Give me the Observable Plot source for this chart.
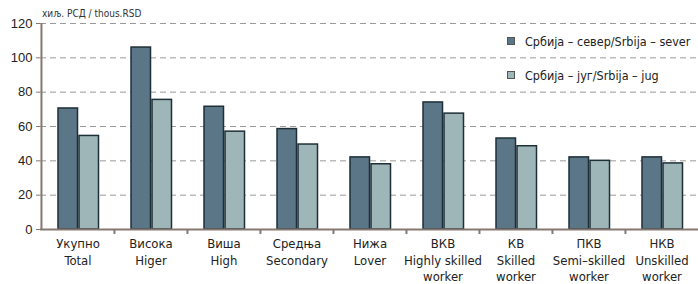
<!DOCTYPE html>
<html><head><meta charset="utf-8">
<script src="https://cdn.jsdelivr.net/npm/d3@7"></script>
<script src="https://cdn.jsdelivr.net/npm/@observablehq/plot@0.6"></script>
<style>
body{margin:0;background:#fff;}
#wrap{position:relative;width:698px;height:284px;font-family:"Liberation Sans Narrow","DejaVu Sans Condensed",Arial,sans-serif;}
#legend{position:absolute;left:507px;top:24px;font-size:12.5px;color:#222;white-space:nowrap;}
#legend div{display:flex;align-items:center;height:34px;margin:0;}
#legend span.sw{display:inline-block;width:8px;height:8px;margin-right:10px;border:1px solid #555;box-sizing:border-box;}
#unit{position:absolute;left:42px;top:8px;font-size:10px;color:#333;}
</style></head>
<body><div id="wrap"><div id="unit">хиљ. РСД / thous.RSD</div><div id="legend"></div></div>
<script>
const categories = ["Укупно\nTotal","Висока\nHiger","Виша\nHigh","Средња\nSecondary","Нижа\nLover","ВКВ\nHighly skilled\nworker","КВ\nSkilled\nworker","ПКВ\nSemi–skilled\nworker","НКВ\nUnskilled\nworker"];
const seriesNames = ["Србија – север/Srbija – sever","Србија – југ/Srbija – jug"];
const north = [70.5, 106, 71.5, 58.5, 42, 74, 53, 42, 42];
const south = [54.5, 75.5, 57, 49.5, 38, 67.5, 48.5, 40, 38.5];
const yTicks = [0,20,40,60,80,100,120];
const colors = ["#5b7686","#9fb6b9"];

const rowsN = categories.map((c,i)=>({cat:c, v:north[i]}));
const rowsS = categories.map((c,i)=>({cat:c, v:south[i]}));
const narrow = '"Liberation Sans Narrow","DejaVu Sans Condensed",Arial,sans-serif';

const chart = Plot.plot({
  width: 698, height: 284,
  marginLeft: 40, marginRight: 0, marginTop: 23, marginBottom: 55,
  style: {fontFamily: narrow, background: "transparent"},
  x: {domain: categories, padding: 0, label: null},
  y: {domain: [0,120], label: null},
  marks: [
    Plot.gridY(yTicks.filter(d=>d>0), {stroke:"#9a9a9a", strokeOpacity:1, strokeDasharray:"6,4", strokeWidth:1}),
    Plot.barY(rowsN, {x:"cat", y:"v", fill:colors[0], stroke:"#1e2f38", strokeWidth:1.5, insetLeft:17, insetRight:36.5}),
    Plot.barY(rowsS, {x:"cat", y:"v", fill:colors[1], stroke:"#1e2f38", strokeWidth:1.5, insetLeft:38, insetRight:15.5}),
    Plot.ruleY([0], {stroke:"#857870", strokeWidth:2}),
    Plot.ruleX([categories[0]], {dx:-36.55, stroke:"#857870", strokeWidth:2}),
    Plot.ruleX(categories.slice(1), {x:d=>d, y1:0, y2:0, insetBottom:-5, dx:-36.55, stroke:"#857870", strokeWidth:2}),
    Plot.axisY(yTicks, {tickSize:4, tickPadding:4, fontSize:13, fontFamily:"Liberation Sans, Arial, sans-serif", color:"#222", stroke:"#857870"}),
    Plot.axisX({tickSize:0, tickPadding:7, fontSize:13, lineHeight:1.27, color:"#222"})
  ]
});
document.getElementById("wrap").appendChild(chart);
const leg = document.getElementById("legend");
seriesNames.forEach((n,i)=>{
  const d=document.createElement("div");
  d.innerHTML=`<span class="sw" style="background:${colors[i]}"></span>${n}`;
  leg.appendChild(d);
});
</script></body></html>
